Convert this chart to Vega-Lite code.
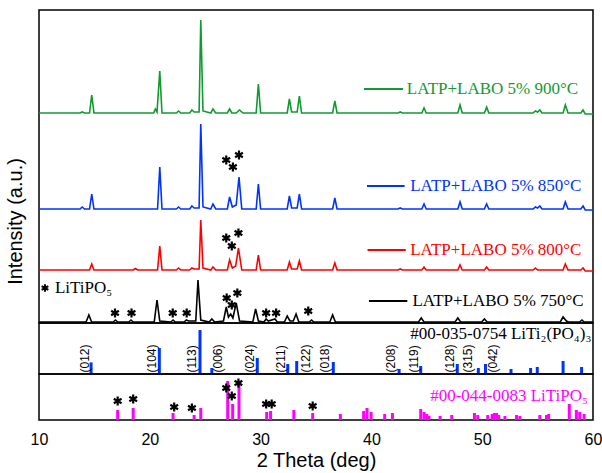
{
"$schema":"https://vega.github.io/schema/vega-lite/v6.json",
"padding":{"left":4,"top":9,"right":9,"bottom":0},
"spacing":0,
"bounds":"flush",
"config":{"view":{"stroke":"black","strokeWidth":1.5},"axis":{"grid":false,"domain":false,"ticks":false,"tickSize":0,"labelFont":"Liberation Sans","titleFont":"Liberation Sans","labelColor":"black","titleColor":"black","titleFontWeight":"normal"}},
"datasets":{
"patterns":[
{"s":"900","t":10,"i":210},{"s":"900","t":13.7,"i":210},{"s":"900","t":13.9,"i":211},{"s":"900","t":14.1,"i":210},{"s":"900","t":14.56,"i":210},{"s":"900","t":14.76,"i":228},{"s":"900","t":14.96,"i":210},{"s":"900","t":20.35,"i":210},{"s":"900","t":20.5,"i":214},{"s":"900","t":20.65,"i":211},{"s":"900","t":20.9,"i":252},{"s":"900","t":21.1,"i":210},{"s":"900","t":22.4,"i":210},{"s":"900","t":22.6,"i":212},{"s":"900","t":22.8,"i":210},{"s":"900","t":23.6,"i":210},{"s":"900","t":23.8,"i":213},{"s":"900","t":24.0,"i":211},{"s":"900","t":24.45,"i":211},{"s":"900","t":24.6,"i":303},{"s":"900","t":24.8,"i":212},{"s":"900","t":25.5,"i":210},{"s":"900","t":25.7,"i":214},{"s":"900","t":25.95,"i":210},{"s":"900","t":27.0,"i":210},{"s":"900","t":27.2,"i":214},{"s":"900","t":27.4,"i":210},{"s":"900","t":27.8,"i":210},{"s":"900","t":28.1,"i":213},{"s":"900","t":28.4,"i":210},{"s":"900","t":29.6,"i":210},{"s":"900","t":29.8,"i":239},{"s":"900","t":30.0,"i":210},{"s":"900","t":32.4,"i":210},{"s":"900","t":32.6,"i":224},{"s":"900","t":32.8,"i":211},{"s":"900","t":33.3,"i":211},{"s":"900","t":33.5,"i":227},{"s":"900","t":33.7,"i":210},{"s":"900","t":36.5,"i":210},{"s":"900","t":36.7,"i":222},{"s":"900","t":36.9,"i":210},{"s":"900","t":42.4,"i":210},{"s":"900","t":42.6,"i":211},{"s":"900","t":42.8,"i":210},{"s":"900","t":44.55,"i":210},{"s":"900","t":44.75,"i":215},{"s":"900","t":44.95,"i":210},{"s":"900","t":47.8,"i":210},{"s":"900","t":48.0,"i":218},{"s":"900","t":48.2,"i":210},{"s":"900","t":50.2,"i":210},{"s":"900","t":50.4,"i":216},{"s":"900","t":50.6,"i":210},{"s":"900","t":54.6,"i":210},{"s":"900","t":54.8,"i":212},{"s":"900","t":55.0,"i":211},{"s":"900","t":55.2,"i":213},{"s":"900","t":55.4,"i":210},{"s":"900","t":57.3,"i":210},{"s":"900","t":57.5,"i":218},{"s":"900","t":57.75,"i":210},{"s":"900","t":58.9,"i":210},{"s":"900","t":59.1,"i":213},{"s":"900","t":59.3,"i":209},{"s":"900","t":60,"i":209},
{"s":"850","t":10,"i":114},{"s":"850","t":13.7,"i":114},{"s":"850","t":13.9,"i":116},{"s":"850","t":14.1,"i":114},{"s":"850","t":14.56,"i":114},{"s":"850","t":14.76,"i":129},{"s":"850","t":14.96,"i":114},{"s":"850","t":20.7,"i":114},{"s":"850","t":20.9,"i":156},{"s":"850","t":21.1,"i":114},{"s":"850","t":22.4,"i":114},{"s":"850","t":22.6,"i":116},{"s":"850","t":22.8,"i":114},{"s":"850","t":23.6,"i":114},{"s":"850","t":23.8,"i":117},{"s":"850","t":24.0,"i":115},{"s":"850","t":24.45,"i":115},{"s":"850","t":24.6,"i":199},{"s":"850","t":24.8,"i":116},{"s":"850","t":25.5,"i":114},{"s":"850","t":25.7,"i":119},{"s":"850","t":25.95,"i":114},{"s":"850","t":27.0,"i":114},{"s":"850","t":27.2,"i":126},{"s":"850","t":27.45,"i":116},{"s":"850","t":27.8,"i":118},{"s":"850","t":28.05,"i":146},{"s":"850","t":28.3,"i":114},{"s":"850","t":29.6,"i":114},{"s":"850","t":29.8,"i":139},{"s":"850","t":30.0,"i":114},{"s":"850","t":32.4,"i":114},{"s":"850","t":32.6,"i":127},{"s":"850","t":32.8,"i":115},{"s":"850","t":33.3,"i":115},{"s":"850","t":33.5,"i":129},{"s":"850","t":33.7,"i":114},{"s":"850","t":36.5,"i":114},{"s":"850","t":36.7,"i":125},{"s":"850","t":36.9,"i":114},{"s":"850","t":42.4,"i":114},{"s":"850","t":42.6,"i":115},{"s":"850","t":42.8,"i":114},{"s":"850","t":44.55,"i":114},{"s":"850","t":44.75,"i":119},{"s":"850","t":44.95,"i":114},{"s":"850","t":47.8,"i":114},{"s":"850","t":48.0,"i":121},{"s":"850","t":48.2,"i":114},{"s":"850","t":50.2,"i":114},{"s":"850","t":50.4,"i":119},{"s":"850","t":50.6,"i":114},{"s":"850","t":54.6,"i":114},{"s":"850","t":54.8,"i":116},{"s":"850","t":55.0,"i":115},{"s":"850","t":55.2,"i":117},{"s":"850","t":55.4,"i":114},{"s":"850","t":57.3,"i":114},{"s":"850","t":57.5,"i":121},{"s":"850","t":57.75,"i":114},{"s":"850","t":58.9,"i":114},{"s":"850","t":59.1,"i":117},{"s":"850","t":59.3,"i":113},{"s":"850","t":60,"i":113},
{"s":"800","t":10,"i":53},{"s":"800","t":14.56,"i":53},{"s":"800","t":14.76,"i":59},{"s":"800","t":14.96,"i":53},{"s":"800","t":18.5,"i":53},{"s":"800","t":18.7,"i":54.5},{"s":"800","t":18.9,"i":53},{"s":"800","t":20.7,"i":53},{"s":"800","t":20.9,"i":77},{"s":"800","t":21.1,"i":53},{"s":"800","t":22.4,"i":53},{"s":"800","t":22.6,"i":55},{"s":"800","t":22.8,"i":53},{"s":"800","t":23.6,"i":53},{"s":"800","t":23.8,"i":55},{"s":"800","t":24.0,"i":54},{"s":"800","t":24.45,"i":54},{"s":"800","t":24.6,"i":103},{"s":"800","t":24.8,"i":55},{"s":"800","t":25.5,"i":53},{"s":"800","t":25.7,"i":56},{"s":"800","t":25.95,"i":53},{"s":"800","t":27.0,"i":53},{"s":"800","t":27.2,"i":63},{"s":"800","t":27.45,"i":55},{"s":"800","t":27.75,"i":57},{"s":"800","t":28.0,"i":75},{"s":"800","t":28.3,"i":53},{"s":"800","t":29.6,"i":53},{"s":"800","t":29.8,"i":68},{"s":"800","t":30.0,"i":53},{"s":"800","t":32.4,"i":53},{"s":"800","t":32.6,"i":61},{"s":"800","t":32.8,"i":54},{"s":"800","t":33.3,"i":54},{"s":"800","t":33.5,"i":62},{"s":"800","t":33.7,"i":53},{"s":"800","t":36.5,"i":53},{"s":"800","t":36.7,"i":60},{"s":"800","t":36.9,"i":53},{"s":"800","t":42.4,"i":53},{"s":"800","t":42.6,"i":54},{"s":"800","t":42.8,"i":53},{"s":"800","t":44.55,"i":53},{"s":"800","t":44.75,"i":56},{"s":"800","t":44.95,"i":53},{"s":"800","t":47.8,"i":53},{"s":"800","t":48.0,"i":58},{"s":"800","t":48.2,"i":53},{"s":"800","t":50.2,"i":53},{"s":"800","t":50.4,"i":56},{"s":"800","t":50.6,"i":53},{"s":"800","t":54.6,"i":53},{"s":"800","t":54.8,"i":55},{"s":"800","t":55.0,"i":53},{"s":"800","t":57.3,"i":53},{"s":"800","t":57.5,"i":59},{"s":"800","t":57.75,"i":53},{"s":"800","t":58.9,"i":53},{"s":"800","t":59.1,"i":55},{"s":"800","t":59.3,"i":52},{"s":"800","t":60,"i":52},
{"s":"750","t":10,"i":1},{"s":"750","t":14.25,"i":1},{"s":"750","t":14.5,"i":8},{"s":"750","t":14.75,"i":1},{"s":"750","t":16.7,"i":1},{"s":"750","t":16.9,"i":3},{"s":"750","t":17.1,"i":1},{"s":"750","t":18.1,"i":1},{"s":"750","t":18.3,"i":3},{"s":"750","t":18.5,"i":1},{"s":"750","t":20.4,"i":1},{"s":"750","t":20.65,"i":23},{"s":"750","t":20.9,"i":2},{"s":"750","t":21.9,"i":1},{"s":"750","t":22.1,"i":3},{"s":"750","t":22.3,"i":1},{"s":"750","t":23.1,"i":1},{"s":"750","t":23.3,"i":3},{"s":"750","t":23.5,"i":2},{"s":"750","t":24.15,"i":2},{"s":"750","t":24.35,"i":43},{"s":"750","t":24.6,"i":3},{"s":"750","t":25.35,"i":1},{"s":"750","t":25.6,"i":4},{"s":"750","t":25.85,"i":1},{"s":"750","t":26.65,"i":2},{"s":"750","t":26.9,"i":16},{"s":"750","t":27.1,"i":6},{"s":"750","t":27.3,"i":9},{"s":"750","t":27.5,"i":5},{"s":"750","t":27.8,"i":20},{"s":"750","t":28.1,"i":2},{"s":"750","t":29.3,"i":1},{"s":"750","t":29.55,"i":14},{"s":"750","t":29.8,"i":2},{"s":"750","t":30.3,"i":1},{"s":"750","t":30.5,"i":4},{"s":"750","t":30.7,"i":2},{"s":"750","t":31.3,"i":4},{"s":"750","t":31.5,"i":1},{"s":"750","t":32.15,"i":1},{"s":"750","t":32.4,"i":7},{"s":"750","t":32.65,"i":2},{"s":"750","t":32.95,"i":2},{"s":"750","t":33.2,"i":9},{"s":"750","t":33.45,"i":1},{"s":"750","t":34.4,"i":1},{"s":"750","t":34.6,"i":3},{"s":"750","t":34.8,"i":1},{"s":"750","t":36.25,"i":1},{"s":"750","t":36.5,"i":8},{"s":"750","t":36.75,"i":1},{"s":"750","t":44.25,"i":1},{"s":"750","t":44.5,"i":5},{"s":"750","t":44.75,"i":1},{"s":"750","t":47.55,"i":1},{"s":"750","t":47.8,"i":5},{"s":"750","t":48.05,"i":1},{"s":"750","t":49.95,"i":1},{"s":"750","t":50.2,"i":4},{"s":"750","t":50.45,"i":1},{"s":"750","t":57.05,"i":1},{"s":"750","t":57.3,"i":6},{"s":"750","t":57.6,"i":2},{"s":"750","t":57.8,"i":1},{"s":"750","t":58.8,"i":1},{"s":"750","t":59.0,"i":3},{"s":"750","t":59.2,"i":1},{"s":"750","t":60,"i":1}
],
"starsTop":[
{"t":16.86,"i":10},{"t":18.35,"i":10},{"t":22.07,"i":10},{"t":23.33,"i":10},{"t":26.94,"i":25},{"t":27.4,"i":18},{"t":27.9,"i":30},{"t":30.5,"i":10},{"t":31.4,"i":10},{"t":34.3,"i":12},
{"t":26.9,"i":85},{"t":27.4,"i":77},{"t":28.0,"i":90},
{"t":26.9,"i":163},{"t":27.5,"i":156},{"t":28.05,"i":168}
],
"latp":[
{"t":14.7,"h":11.6},{"t":20.86,"h":26},{"t":24.53,"h":44},{"t":25.6,"h":6},{"t":29.7,"h":16},{"t":32.45,"h":10},{"t":33.26,"h":13},{"t":36.56,"h":12},{"t":42.5,"h":5},{"t":44.45,"h":8},{"t":47.75,"h":10},{"t":49.65,"h":6},{"t":50.3,"h":10},{"t":52.6,"h":5},{"t":54.37,"h":6},{"t":54.97,"h":7},{"t":57.3,"h":13},{"t":58.97,"h":7}
],
"hkl":[
{"t":14.15,"hkl":"(012)"},{"t":20.17,"hkl":"(104)"},{"t":23.8,"hkl":"(113)"},{"t":26.2,"hkl":"(006)"},{"t":29.05,"hkl":"(024)"},{"t":31.85,"hkl":"(211)"},{"t":34.1,"hkl":"(122)"},{"t":35.8,"hkl":"(018)"},{"t":41.74,"hkl":"(208)"},{"t":43.8,"hkl":"(119)"},{"t":47.1,"hkl":"(128)"},{"t":48.75,"hkl":"(315)"},{"t":51.0,"hkl":"(042)"}
],
"litipo":[
{"t":17.1,"h":10},{"t":18.5,"h":12},{"t":22.1,"h":7},{"t":24.0,"h":5},{"t":24.6,"h":12},{"t":27.03,"h":39},{"t":27.48,"h":16},{"t":28.05,"h":36},{"t":30.55,"h":8},{"t":30.9,"h":9},{"t":33.0,"h":10},{"t":34.7,"h":7},{"t":37.2,"h":6},{"t":39.3,"h":9},{"t":39.6,"h":12},{"t":39.97,"h":8},{"t":41.2,"h":6},{"t":41.9,"h":7},{"t":44.45,"h":11},{"t":44.75,"h":8},{"t":45.0,"h":6},{"t":45.2,"h":4},{"t":46.2,"h":4},{"t":47.25,"h":5},{"t":49.3,"h":7},{"t":49.6,"h":5},{"t":50.5,"h":5},{"t":50.9,"h":6},{"t":51.1,"h":7},{"t":51.3,"h":7},{"t":51.5,"h":5},{"t":52.05,"h":4},{"t":53.1,"h":5},{"t":53.4,"h":4},{"t":55.2,"h":5},{"t":55.8,"h":5},{"t":56.0,"h":6},{"t":57.86,"h":16},{"t":58.5,"h":10},{"t":58.8,"h":8},{"t":59.2,"h":6}
],
"starsBottom":[
{"t":17.1,"h":19},{"t":18.5,"h":21},{"t":22.2,"h":13},{"t":23.8,"h":12},{"t":26.9,"h":32},{"t":27.4,"h":24},{"t":28.0,"h":37},{"t":30.5,"h":16},{"t":31.0,"h":16},{"t":34.7,"h":14}
]
},
"vconcat":[
{
"width":554,"height":313,
"layer":[
{"data":{"name":"patterns"},"mark":{"type":"line","strokeWidth":1.6},
"encoding":{"x":{"field":"t","type":"quantitative","scale":{"domain":[10,60],"nice":false,"zero":false},"axis":null},
"y":{"field":"i","type":"quantitative","scale":{"domain":[0,313],"nice":false,"zero":false},"axis":{"title":"Intensity (a.u.)","labels":false,"titleFontSize":20,"titlePadding":14,"titleY":211}},
"color":{"field":"s","type":"nominal","scale":{"domain":["750","800","850","900"],"range":["#000000","#ff0000","#0033ff","#109a30"]},"legend":null}}},
{"data":{"name":"starsTop"},"mark":{"type":"point","shape":"M0,-1L0,1M-0.87,-0.5L0.87,0.5M-0.87,0.5L0.87,-0.5","filled":false,"stroke":"black","strokeWidth":2.2,"size":80,"opacity":1},
"encoding":{"x":{"field":"t","type":"quantitative"},"y":{"field":"i","type":"quantitative"}}},
{"data":{"values":[{}]},"mark":{"type":"rule","color":"#109a30","strokeWidth":2},"encoding":{"x":{"datum":39.33},"x2":{"datum":42.85},"y":{"datum":234}}},
{"data":{"values":[{}]},"mark":{"type":"text","text":"LATP+LABO 5% 900°C","font":"Liberation Serif","fontSize":17,"align":"left","baseline":"middle","color":"#109a30"},"encoding":{"x":{"datum":43.2},"y":{"datum":234}}},
{"data":{"values":[{}]},"mark":{"type":"rule","color":"#0033ff","strokeWidth":2},"encoding":{"x":{"datum":39.6},"x2":{"datum":43.0},"y":{"datum":137}}},
{"data":{"values":[{}]},"mark":{"type":"text","text":"LATP+LABO 5% 850°C","font":"Liberation Serif","fontSize":17,"align":"left","baseline":"middle","color":"#0033ff"},"encoding":{"x":{"datum":43.5},"y":{"datum":137}}},
{"data":{"values":[{}]},"mark":{"type":"rule","color":"#ff0000","strokeWidth":2},"encoding":{"x":{"datum":39.65},"x2":{"datum":43.1},"y":{"datum":73}}},
{"data":{"values":[{}]},"mark":{"type":"text","text":"LATP+LABO 5% 800°C","font":"Liberation Serif","fontSize":17,"align":"left","baseline":"middle","color":"#ff0000"},"encoding":{"x":{"datum":43.5},"y":{"datum":73}}},
{"data":{"values":[{}]},"mark":{"type":"rule","color":"#000000","strokeWidth":2},"encoding":{"x":{"datum":39.78},"x2":{"datum":43.24},"y":{"datum":22}}},
{"data":{"values":[{}]},"mark":{"type":"text","text":"LATP+LABO 5% 750°C","font":"Liberation Serif","fontSize":17,"align":"left","baseline":"middle","color":"#000000"},"encoding":{"x":{"datum":43.7},"y":{"datum":22}}},
{"data":{"values":[{}]},"mark":{"type":"point","shape":"M0,-1L0,1M-0.87,-0.5L0.87,0.5M-0.87,0.5L0.87,-0.5","filled":false,"stroke":"black","strokeWidth":2,"size":60,"opacity":1},"encoding":{"x":{"datum":10.54},"y":{"datum":35}}},
{"data":{"values":[{}]},"mark":{"type":"text","text":"LiTiPO₅","font":"Liberation Serif","fontSize":17,"align":"left","baseline":"middle","color":"#000000"},"encoding":{"x":{"datum":11.44},"y":{"datum":35}}}
]
},
{
"width":554,"height":51,
"layer":[
{"data":{"name":"latp"},"mark":{"type":"rule","color":"#0033ff","strokeWidth":3},
"encoding":{"x":{"field":"t","type":"quantitative","scale":{"domain":[10,60],"nice":false,"zero":false},"axis":null},
"y":{"field":"h","type":"quantitative","scale":{"domain":[0,51],"nice":false,"zero":false},"axis":null},"y2":{"datum":0}}},
{"data":{"name":"hkl"},"mark":{"type":"text","angle":270,"align":"left","baseline":"middle","fontSize":12,"font":"Liberation Sans","color":"black"},
"encoding":{"x":{"field":"t","type":"quantitative"},"y":{"datum":1.5},"text":{"field":"hkl"}}},
{"data":{"values":[{}]},"mark":{"type":"text","text":"#00-035-0754 LiTi₂(PO₄)₃","font":"Liberation Serif","fontSize":17,"align":"right","baseline":"middle","color":"black"},"encoding":{"x":{"datum":59.85},"y":{"datum":40}}}
]
},
{
"width":554,"height":46,
"layer":[
{"data":{"name":"litipo"},"mark":{"type":"rule","color":"#ff00ff","strokeWidth":3},
"encoding":{"x":{"field":"t","type":"quantitative","scale":{"domain":[10,60],"nice":false,"zero":false},
"axis":{"values":[10,20,30,40,50,60],"title":"2 Theta (deg)","labelFontSize":16,"titleFontSize":20,"labelPadding":11,"titlePadding":3,"labelFlush":false,"labelBound":false}},
"y":{"field":"h","type":"quantitative","scale":{"domain":[0,46],"nice":false,"zero":false},"axis":null},"y2":{"datum":0}}},
{"data":{"name":"starsBottom"},"mark":{"type":"point","shape":"M0,-1L0,1M-0.87,-0.5L0.87,0.5M-0.87,0.5L0.87,-0.5","filled":false,"stroke":"black","strokeWidth":2.2,"size":80,"opacity":1},
"encoding":{"x":{"field":"t","type":"quantitative"},"y":{"field":"h","type":"quantitative"}}},
{"data":{"values":[{}]},"mark":{"type":"text","text":"#00-044-0083 LiTiPO₅","font":"Liberation Serif","fontSize":17,"align":"right","baseline":"middle","color":"#ff00ff"},"encoding":{"x":{"datum":59.55},"y":{"datum":24}}}
]
}
]
}
